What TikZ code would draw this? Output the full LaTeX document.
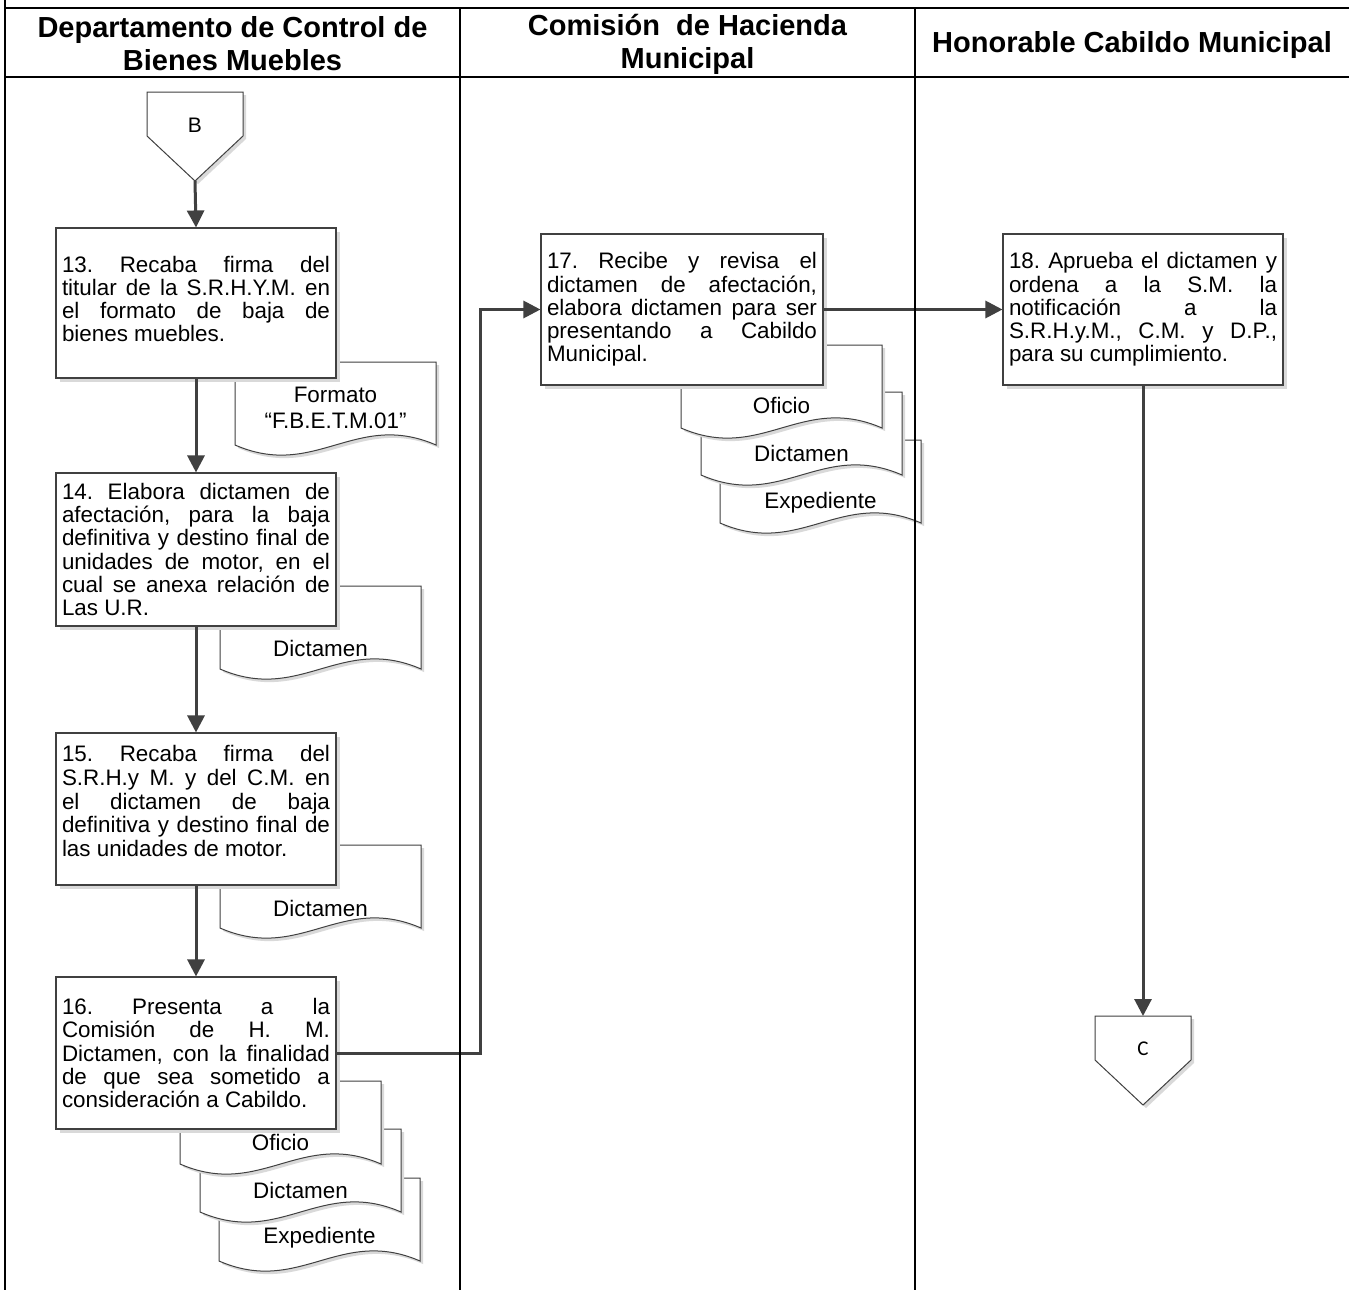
\documentclass[tikz,border=0pt]{standalone}
\usepackage{fontspec}
\setmainfont{Liberation Sans}
\newfontfamily\carl{Carlito}
\usetikzlibrary{arrows.meta}
\definecolor{lineg}{HTML}{404040}
\definecolor{shadowc}{HTML}{D9D9D9}
\newcommand\bodyfont{\fontsize{22.4}{23.2}\selectfont\frenchspacing\tolerance=10000\hyphenpenalty=10000\exhyphenpenalty=10000}
\newcommand\padbottom[1]{\par\nointerlineskip\hbox{\vrule width 0pt height #1 depth 0pt}}
\tikzset{
  procbox/.style={draw=lineg, line width=1.1pt, fill=white, text width=268pt, inner xsep=6pt, inner ysep=0pt,
     align=justify, font=\bodyfont, minimum width=280pt},
  arr/.style={draw=lineg, line width=3pt, -{Triangle[length=17pt,width=17pt]}},
  lane/.style={draw=black, line width=2.4pt},
  hdr/.style={font=\fontsize{29}{33}\selectfont\bfseries, align=center, inner sep=0pt},
  doctext/.style={font=\fontsize{22.4}{26}\selectfont, align=center, inner sep=0pt},
  docline/.style={draw=lineg, line width=1pt, fill=white},
  shad/.style={fill=shadowc, draw=none}
}
% document shape: name, x left, y top, text y offset, text
\newcommand\docsh[5]{%
  \begin{scope}[shift={(#2,#3)}]
    \fill[shad] (3,3) -- (204,3) -- (204,86) .. controls (123.6,51) and (83.4,121) .. (3,86) -- cycle;
    \filldraw[docline] (0,0) -- (201,0) -- (201,83) .. controls (120.6,48) and (80.4,118) .. (0,83) -- cycle;
    \node[doctext] (#1) at (100.5,#4) {#5};
  \end{scope}}
% process box with shadow: name, cx, cy, width, height, text
\newcommand\pbox[6]{%
  \fill[shad] (#2-#4/2+4,#3-#5/2+4) rectangle (#2+#4/2+4,#3+#5/2+4);
  \node[procbox, minimum width=#4pt, text width=#4pt-12pt, minimum height=#5pt] (#1) at (#2,#3) {#6};}
% off-page connector: name, cx, top, text
\newcommand\offpage[4]{%
  \begin{scope}[shift={(#2,#3)}]
    \fill[shad] (-45,3) -- (51,3) -- (51,47) -- (3,92) -- (-45,47) -- cycle;
    \filldraw[docline] (-48,0) -- (48,0) -- (48,44) -- (0,89) -- (-48,44) -- cycle;
    \node[inner sep=0pt] (#1) at (0,33) {#4};
    \coordinate (#1top) at (0,0);
    \coordinate (#1pt) at (0,89);
  \end{scope}}
\begin{document}
\begin{tikzpicture}[x=1pt,y=-1pt]
\useasboundingbox (0,0) rectangle (1349,1290);
\fill[white] (0,0) rectangle (1349,1290);

% headers
\node[hdr] (h1) at (232.5,44) {Departamento de Control de\\Bienes Muebles};
\node[hdr] (h2) at (687.5,44) {Comisión\ \ de Hacienda\\Municipal};
\node[hdr] (h3) at (1132,45) {Honorable Cabildo Municipal};

% connector B
\offpage{B}{195}{92}{\fontsize{21}{21}\selectfont B}

% documents lane 1
\docsh{d13}{235}{362}{46}{Formato\\“F.B.E.T.M.01”}
\docsh{d14}{220}{586}{62}{Dictamen}
\docsh{d15}{220}{845}{63}{Dictamen}
\docsh{d16c}{219}{1178}{60}{Expediente}
\docsh{d16b}{200}{1129}{61}{Dictamen}
\docsh{d16a}{180}{1081}{61}{Oficio}

% documents lane 2
\docsh{d17c}{720}{440}{63}{Expediente}
\docsh{d17b}{701}{392}{61}{Dictamen}
\docsh{d17a}{681}{345}{60}{Oficio}

% process boxes
\pbox{b13}{196}{303}{280}{150}{13. Recaba firma del\linebreak titular de la S.R.H.Y.M. en\linebreak el formato de baja de\linebreak bienes muebles.\padbottom{8pt}}
\pbox{b14}{196}{549.5}{280}{153}{14. Elabora dictamen de\linebreak afectación, para la baja\linebreak definitiva y destino final de\linebreak unidades de motor, en el\linebreak cual se anexa relación de\linebreak Las U.R.}
\pbox{b15}{196}{809}{280}{152}{\fontsize{22.4}{23.7}\selectfont 15. Recaba firma del\linebreak S.R.H.y M. y del C.M. en\linebreak el dictamen de baja\linebreak definitiva y destino final de\linebreak las unidades de motor.\padbottom{16pt}}
\pbox{b16}{196}{1053}{280}{152}{16. Presenta a la\linebreak Comisión de H. M.\linebreak Dictamen, con la finalidad\linebreak de que sea sometido a\linebreak consideración a Cabildo.}
\pbox{b17}{682}{309.5}{282}{151}{17. Recibe y revisa el\linebreak dictamen de afectación,\linebreak elabora dictamen para ser\linebreak presentando a Cabildo\linebreak Municipal.}
\pbox{b18}{1143}{309.5}{280}{151}{18. Aprueba el dictamen y\linebreak ordena a la S.M. la\linebreak notificación a la\linebreak S.R.H.y.M., C.M. y D.P.,\linebreak para su cumplimiento.}

% connector C
\offpage{C}{1143}{1016}{\carl\fontsize{21}{21}\selectfont C}

% arrows
\coordinate (jx) at (480,0);
\draw[arr] (Bpt) -- (b13.north);
\draw[arr] (b13.south) -- (b14.north);
\draw[arr] (b14.south) -- (b15.north);
\draw[arr] (b15.south) -- (b16.north);
\draw[arr] (b16.east) -- (b16.east -| jx) |- (b17.west);
\draw[arr] (b17.east) -- (b18.west);
\draw[arr] (b18.south) -- (Ctop);

% swimlanes
\draw[lane] (5,0) -- (5,1290);
\draw[lane] (5,8) -- (1349,8);
\draw[lane] (5,77) -- (1349,77);
\draw[lane] (460,8) -- (460,1290);
\draw[lane] (915,8) -- (915,1290);
\end{tikzpicture}
\end{document}
